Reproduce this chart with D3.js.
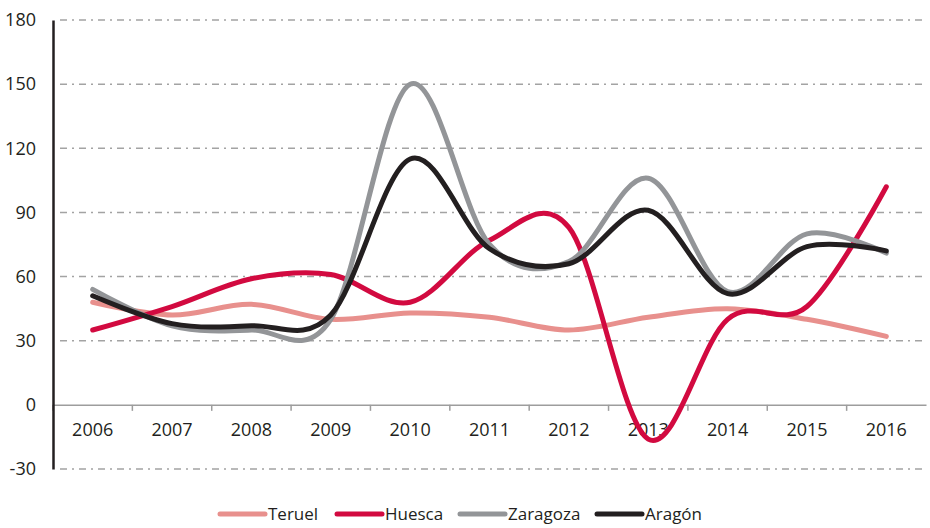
<!DOCTYPE html>
<html>

<head>
    <script src="https://d3js.org/d3.v7.min.js"></script>
    <style>
        body { margin: 0; background: #fff; }
        text { font-family: "Open Sans", sans-serif; fill: #231f20; }
    </style>
</head>

<body>
    <svg id="chart" width="930" height="528"></svg>

    <script>
        var years = ["2006", "2007", "2008", "2009", "2010", "2011", "2012", "2013", "2014", "2015", "2016"];
        var teruel = [48, 42, 47, 40, 43, 41, 35, 41, 45, 40, 32];
        var huesca = [35, 46, 59, 61, 48, 77, 83, -16, 40, 46, 102];
        var zaragoza = [54, 37, 35, 40, 150, 75, 67, 106, 53, 80, 71];
        var aragon = [51, 38, 37, 42, 115, 73, 66, 91, 52, 74, 72];
        var yTicks = [-30, 0, 30, 60, 90, 120, 150, 180];

        var series = [
            { name: "Teruel", values: teruel, color: "#e8908d" },
            { name: "Huesca", values: huesca, color: "#d20a40" },
            { name: "Zaragoza", values: zaragoza, color: "#939598" },
            { name: "Aragón", values: aragon, color: "#231f20" }
        ];

        var svg = d3.select("#chart");

        var x = d3.scaleBand().domain(years).range([53, 926]);
        var y = d3.scaleLinear().domain([-30, 180]).range([469, 20]);

        // grid lines (dash-dot)
        svg.append("g")
            .selectAll("line")
            .data(yTicks.filter(d => d !== 0))
            .enter()
            .append("line")
            .attr("x1", 60)
            .attr("x2", 926)
            .attr("y1", d => y(d))
            .attr("y2", d => y(d))
            .attr("stroke", "#a3a3a3")
            .attr("stroke-width", 1.5)
            .attr("stroke-dasharray", "7,5,2,5");

        // x axis at zero
        var xAxis = svg.append("g")
            .attr("transform", "translate(0," + y(0) + ")")
            .call(d3.axisBottom(x).tickSize(0).tickPadding(18));
        xAxis.select(".domain").attr("stroke", "#9d9d9d").attr("stroke-width", 1.5);
        xAxis.selectAll("text").style("font-size", "18px").attr("fill", "#231f20");
        xAxis.selectAll(".sep")
            .data(years)
            .enter()
            .append("line")
            .attr("x1", d => x(d))
            .attr("x2", d => x(d))
            .attr("y1", 0)
            .attr("y2", 6)
            .attr("stroke", "#9d9d9d")
            .attr("stroke-width", 1.5);

        // y axis
        var yAxis = svg.append("g")
            .attr("transform", "translate(53,0)")
            .call(d3.axisLeft(y).tickValues(yTicks).tickFormat(d => String(d)).tickSize(0).tickPadding(17));
        yAxis.select(".domain").attr("stroke", "#231f20").attr("stroke-width", 2.5);
        yAxis.selectAll("text").style("font-size", "18px").attr("fill", "#231f20");

        var line = d3.line()
            .x((d, i) => x(years[i]) + x.bandwidth() / 2)
            .y(d => y(d))
            .curve(d3.curveCardinal.tension(0));

        svg.append("g")
            .selectAll("path")
            .data(series)
            .enter()
            .append("path")
            .attr("d", d => line(d.values))
            .attr("fill", "none")
            .attr("stroke", d => d.color)
            .attr("stroke-width", 5)
            .attr("stroke-linecap", "round");

        // legend
        var legendX = [220, 337, 460, 597];
        var legend = svg.append("g")
            .selectAll("g")
            .data(series)
            .enter()
            .append("g")
            .attr("transform", (d, i) => "translate(" + legendX[i] + ",514)");
        legend.append("line")
            .attr("x1", 0).attr("x2", 45)
            .attr("stroke", d => d.color)
            .attr("stroke-width", 5)
            .attr("stroke-linecap", "round");
        legend.append("text")
            .attr("x", 48)
            .attr("dy", "0.35em")
            .style("font-size", "17px")
            .text(d => d.name);
    </script>
</body>

</html>
